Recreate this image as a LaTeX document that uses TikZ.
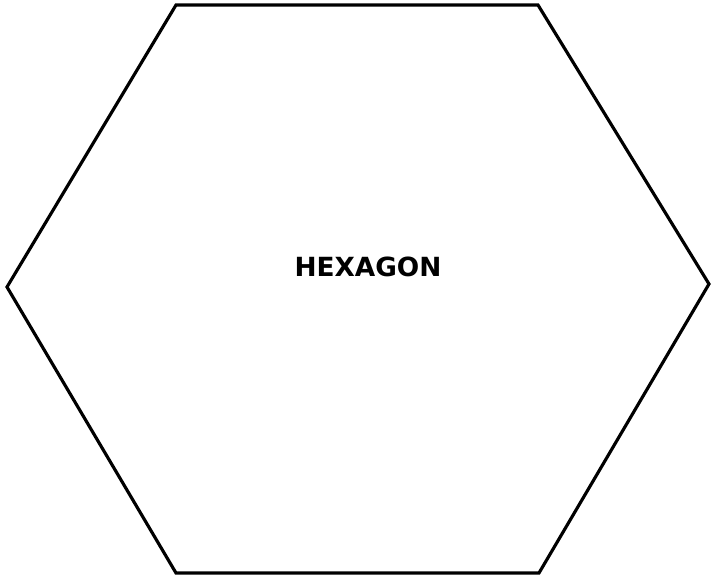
\documentclass[tikz,border=0pt]{standalone}
\usepackage{fontspec}
\newfontfamily\labelfont{DejaVu Sans}
\usepackage{tikz}
\usetikzlibrary{positioning}

\begin{document}
\begin{tikzpicture}[
    side/.style={draw=black, line width=0.9pt, line join=miter},
    title/.style={font=\labelfont\bfseries\fontsize{7.5}{9}\selectfont, inner sep=0pt}
]

% ---- Fixed canvas, same proportions as the reference ----
\useasboundingbox (0,0) rectangle (7.12,5.79);

% ---- Hexagon corners ----
\coordinate (TL) at (1.76,5.74);
\coordinate (TR) at (5.38,5.74);
\coordinate (R)  at (7.09,2.95);
\coordinate (BR) at (5.39,0.06);
\coordinate (BL) at (1.76,0.06);
\coordinate (L)  at (0.07,2.92);

% ---- Outline ----
\draw[side] (TL) -- (TR) -- (R) -- (BR) -- (BL) -- (L) -- cycle;

% ---- Label ----
\node[title] (name) at (3.68,3.12) {HEXAGON};

\end{tikzpicture}
\end{document}
